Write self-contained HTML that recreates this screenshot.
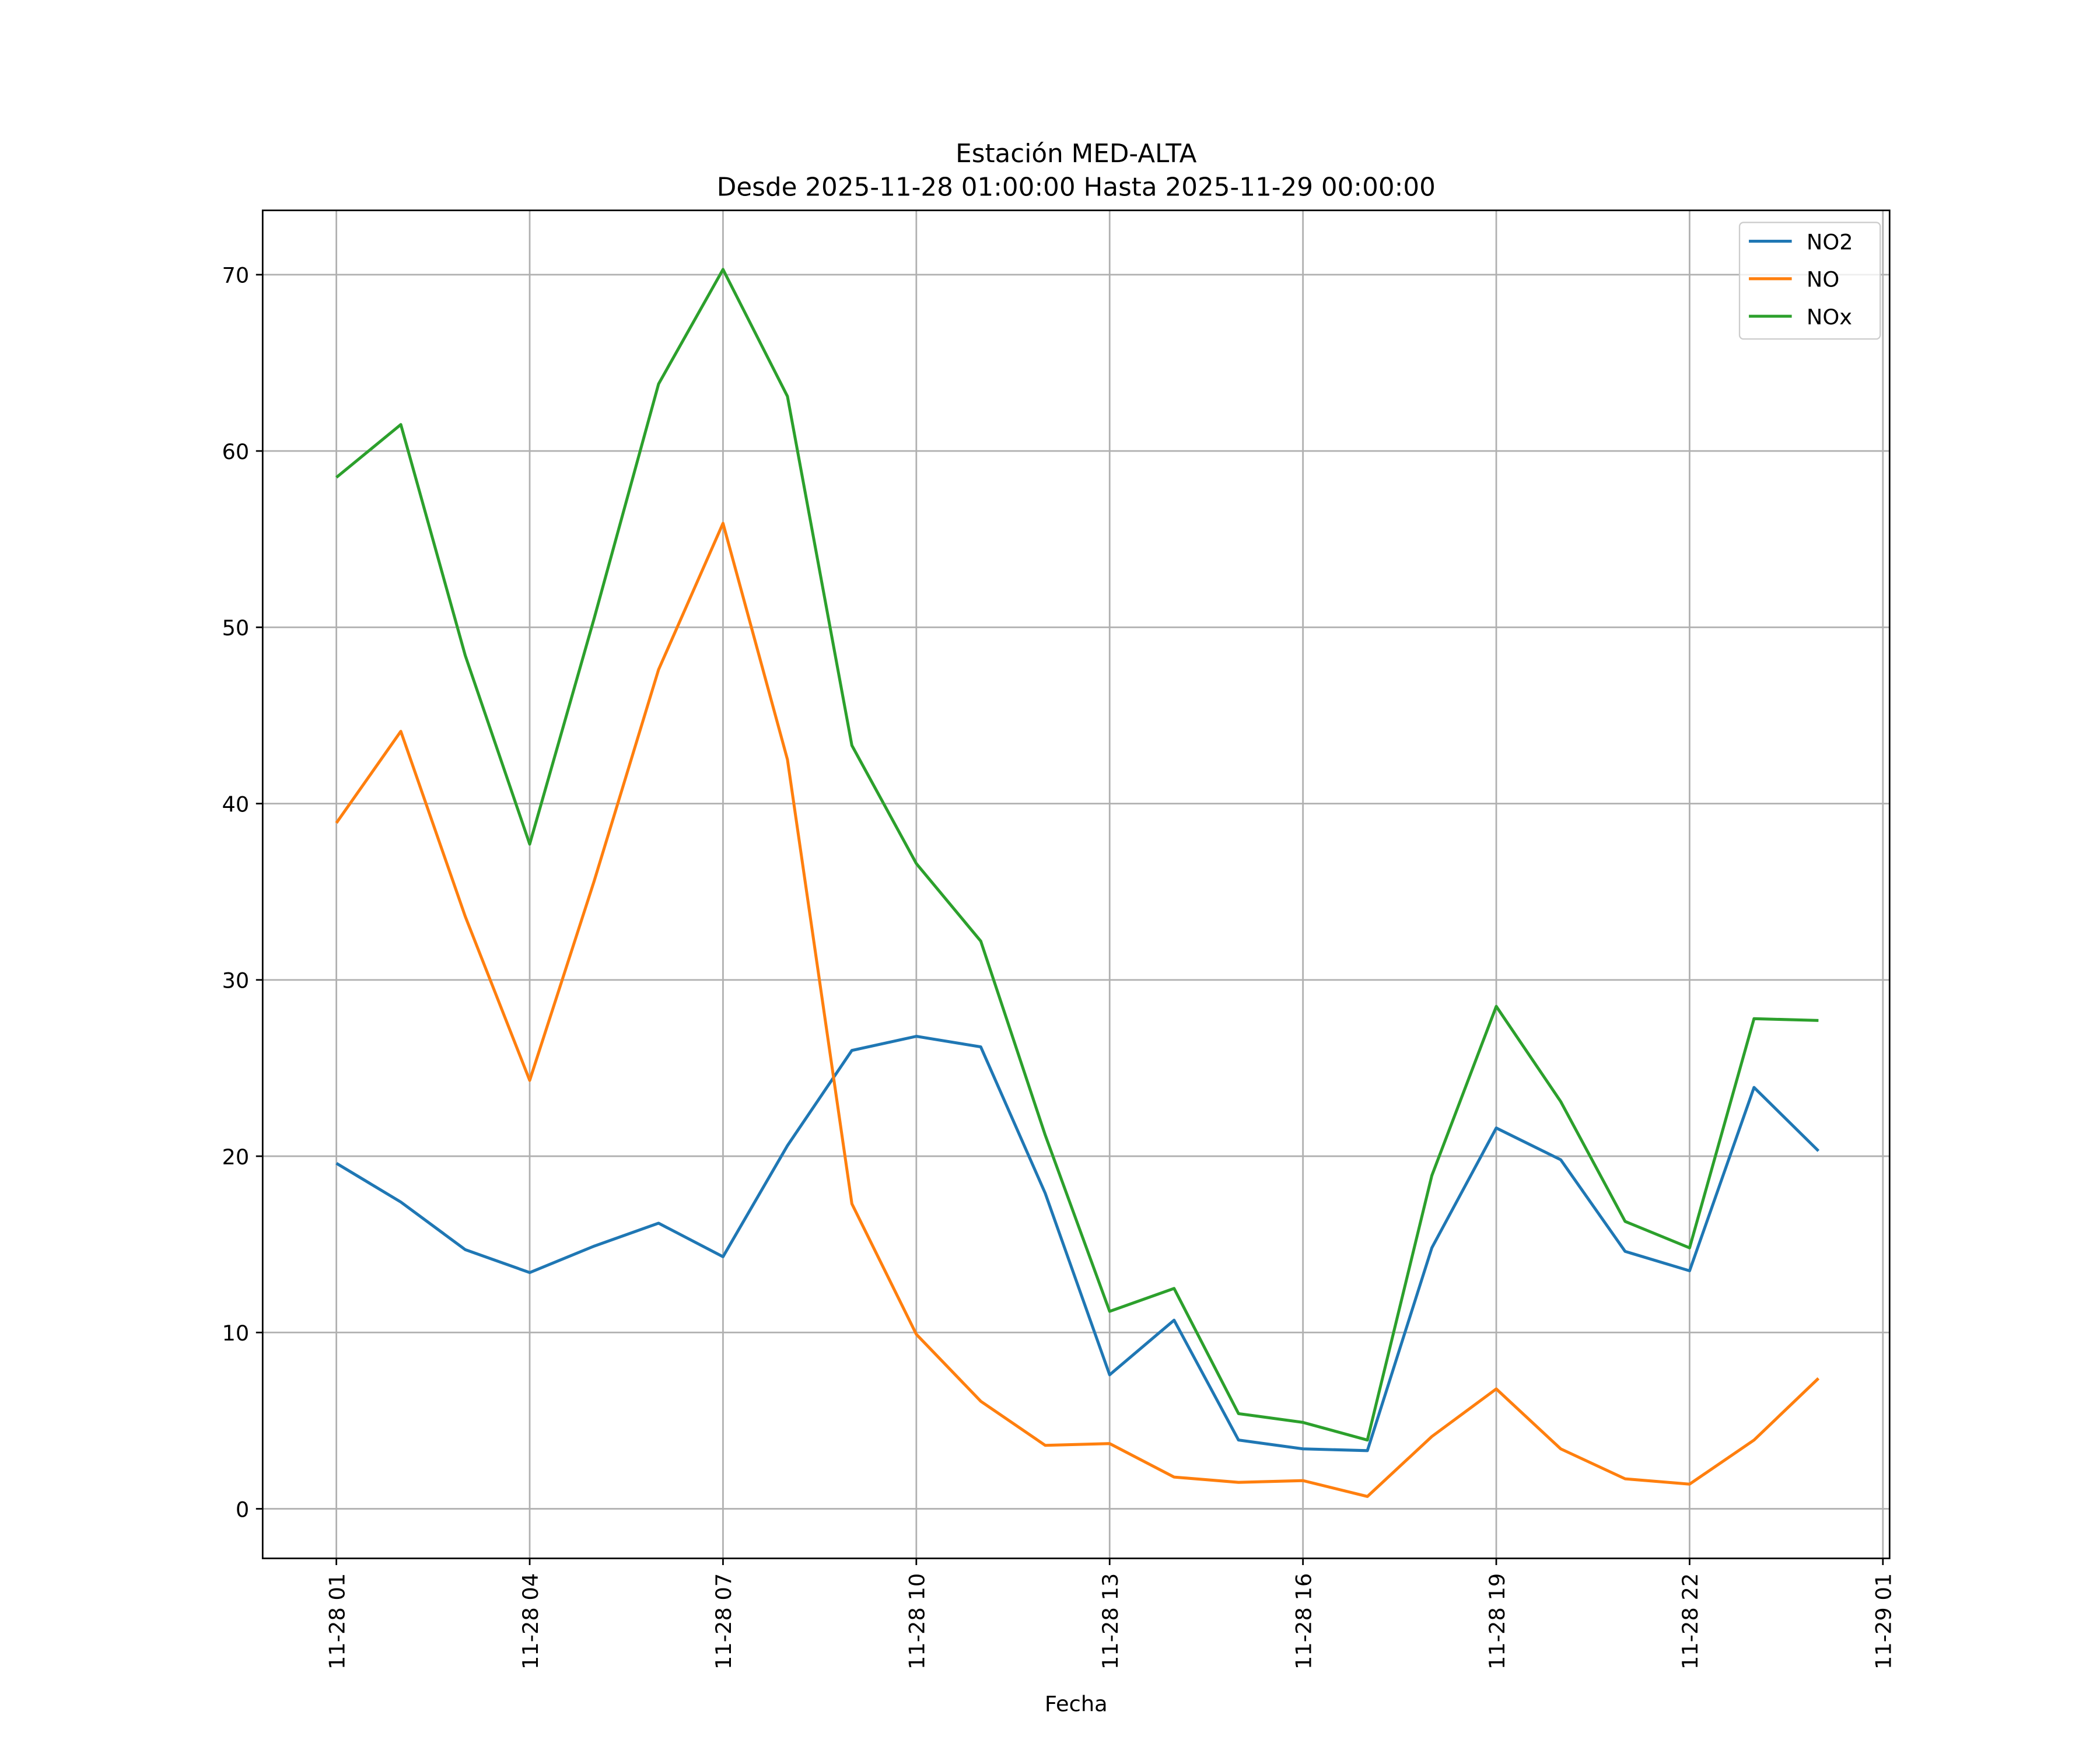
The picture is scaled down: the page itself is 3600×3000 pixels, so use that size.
<!DOCTYPE html>
<html><head><meta charset="utf-8"><style>
html,body{margin:0;padding:0;background:#fff}
svg{display:block;font-family:"DejaVu Sans","Liberation Sans",sans-serif}
</style></head><body>
<svg id="chart" width="3600" height="3000" viewBox="0 0 1567 1306" preserveAspectRatio="none" xmlns="http://www.w3.org/2000/svg">
<rect width="1567" height="1306" fill="#fff"/>
<text x="803" y="121" font-size="19" text-anchor="middle">Estación MED-ALTA</text>
<text x="803" y="146" font-size="19" text-anchor="middle">Desde 2025-11-28 01:00:00 Hasta 2025-11-29 00:00:00</text>
<g id="grid"></g>
<g id="series"></g>
<rect x="196" y="157" width="1214" height="1006" fill="none" stroke="#000" stroke-width="1.2"/>
<g id="axes"></g>
<text x="803" y="1277" font-size="16" text-anchor="middle">Fecha</text>
<g>
<rect x="1298" y="166" width="105" height="87" rx="3" fill="#fff" fill-opacity="0.8" stroke="#ccc"/>
<line x1="1305" y1="180" x2="1337" y2="180" stroke="#1f77b4" stroke-width="2.2"/>
<text x="1348" y="186" font-size="16">NO2</text>
<line x1="1305" y1="208" x2="1337" y2="208" stroke="#ff7f0e" stroke-width="2.2"/>
<text x="1348" y="214" font-size="16">NO</text>
<line x1="1305" y1="236" x2="1337" y2="236" stroke="#2ca02c" stroke-width="2.2"/>
<text x="1348" y="242" font-size="16">NOx</text>
</g>
</svg>
<script>
const hours=[1,2,3,4,5,6,7,8,9,10,11,12,13,14,15,16,17,18,19,20,21,22,23,24];
const no2=[19.6,17.4,14.7,13.4,14.9,16.2,14.3,20.6,26.0,26.8,26.2,17.9,7.6,10.7,3.9,3.4,3.3,14.8,21.6,19.8,14.6,13.5,23.9,20.3];
const no=[38.9,44.1,33.6,24.3,35.6,47.6,55.9,42.5,17.3,9.9,6.1,3.6,3.7,1.8,1.5,1.6,0.7,4.1,6.8,3.4,1.7,1.4,3.9,7.4];
const nox=[58.5,61.5,48.4,37.7,50.5,63.8,70.3,63.1,43.3,36.6,32.2,21.2,11.2,12.5,5.4,4.9,3.9,18.9,28.5,23.1,16.3,14.8,27.8,27.7];
const yTicks=[0,10,20,30,40,50,60,70];
const xTickHours=[1,4,7,10,13,16,19,22,25];
const xTickLabels=["11-28 01","11-28 04","11-28 07","11-28 10","11-28 13","11-28 16","11-28 19","11-28 22","11-29 01"];
const NS="http://www.w3.org/2000/svg";
const X=h=>251+(h-1)*(1154/24);
const Y=v=>1126-v*(921/70);
function mk(tag,attrs,parent){const e=document.createElementNS(NS,tag);for(const k in attrs)e.setAttribute(k,attrs[k]);parent.appendChild(e);return e;}
const grid=document.getElementById('grid'),axes=document.getElementById('axes'),ser=document.getElementById('series');
yTicks.forEach(t=>{
 const y=Y(t);
 const g=mk('line',{x1:196,x2:1410,y1:y,y2:y,stroke:'#b0b0b0','stroke-width':1.2},grid);
 
 
 const tk=mk('line',{x1:191,x2:196,y1:y,y2:y,stroke:'#000','stroke-width':1.2},axes);
 
 
 const tx=mk('text',{x:186,y:y+6,'font-size':16,'text-anchor':'end'},axes);
 tx.textContent=t;
 
 
});
xTickHours.forEach((h,i)=>{
 const x=X(h);
 const g=mk('line',{x1:x,x2:x,y1:157,y2:1163,stroke:'#b0b0b0','stroke-width':1.2},grid);
 
 
 const tk=mk('line',{x1:x,x2:x,y1:1163,y2:1168,stroke:'#000','stroke-width':1.2},axes);
 
 
 const tx=mk('text',{x:0,y:0,'font-size':16,'text-anchor':'end',transform:`translate(${x+6},1174) rotate(-90)`},axes);
 tx.textContent=xTickLabels[i];
 
 
});
[[no2,'#1f77b4','series-no2'],[no,'#ff7f0e','series-no'],[nox,'#2ca02c','series-nox']].forEach(([d,c,n])=>{
 const p=mk('polyline',{points:d.map((v,i)=>X(hours[i])+','+Y(v)).join(' '),fill:'none',stroke:c,'stroke-width':2.2,'stroke-linejoin':'round'},ser);
 
 
});
</script>
</body></html>
